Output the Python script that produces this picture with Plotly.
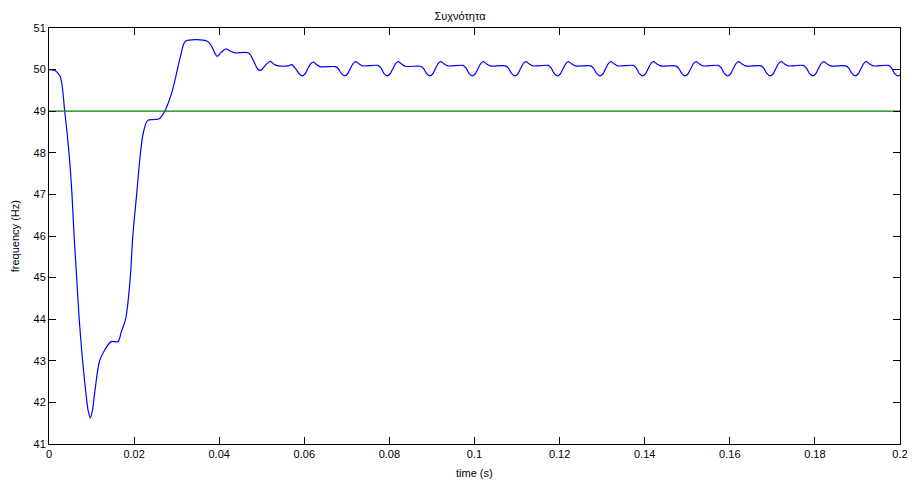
import plotly.graph_objects as go

# Frequency trace (time in s, frequency in Hz)
time_s = [
    0.0000, 0.0014, 0.0026, 0.0037, 0.0047, 0.0054, 0.0059, 0.0065, 0.0071, 0.0079,
    0.0087, 0.0092, 0.0097, 0.0102, 0.0107, 0.0119, 0.0131, 0.0146, 0.0162, 0.0170,
    0.0180, 0.0191, 0.0197, 0.0206, 0.0215, 0.0222, 0.0232, 0.0247, 0.0259, 0.0272,
    0.0288, 0.0298, 0.0310, 0.0321, 0.0372, 0.0381, 0.0395, 0.0405, 0.0416, 0.0427,
    0.0438, 0.0469, 0.0482, 0.0490, 0.0496, 0.0502, 0.0510, 0.0520, 0.0530, 0.0539,
    0.0562, 0.0570, 0.0580, 0.0588,
    0.0595, 0.0602, 0.0608, 0.0615, 0.0621, 0.0628, 0.0637, 0.0673, 0.0680, 0.0687,
    0.0695, 0.0702, 0.0708, 0.0715, 0.0721, 0.0728, 0.0737, 0.0773, 0.0780, 0.0787,
    0.0795, 0.0802, 0.0808, 0.0815, 0.0821, 0.0828, 0.0837, 0.0873, 0.0880, 0.0887,
    0.0895, 0.0902, 0.0908, 0.0915, 0.0921, 0.0928, 0.0937, 0.0973, 0.0980, 0.0987,
    0.0995, 0.1002, 0.1008, 0.1015, 0.1021, 0.1028, 0.1037, 0.1073, 0.1080, 0.1087,
    0.1095, 0.1102, 0.1108, 0.1115, 0.1121, 0.1128, 0.1137, 0.1173, 0.1180, 0.1187,
    0.1195, 0.1202, 0.1208, 0.1215, 0.1221, 0.1228, 0.1237, 0.1273, 0.1280, 0.1287,
    0.1295, 0.1302, 0.1308, 0.1315, 0.1321, 0.1328, 0.1337, 0.1373, 0.1380, 0.1387,
    0.1395, 0.1402, 0.1408, 0.1415, 0.1421, 0.1428, 0.1437, 0.1473, 0.1480, 0.1487,
    0.1495, 0.1502, 0.1508, 0.1515, 0.1521, 0.1528, 0.1537, 0.1573, 0.1580, 0.1587,
    0.1595, 0.1602, 0.1608, 0.1615, 0.1621, 0.1628, 0.1637, 0.1673, 0.1680, 0.1687,
    0.1695, 0.1702, 0.1708, 0.1715, 0.1721, 0.1728, 0.1737, 0.1773, 0.1780, 0.1787,
    0.1795, 0.1802, 0.1808, 0.1815, 0.1821, 0.1828, 0.1837, 0.1873, 0.1880, 0.1887,
    0.1895, 0.1902, 0.1908, 0.1915, 0.1921, 0.1928, 0.1937, 0.1973, 0.1980, 0.1987,
    0.1995, 0.2000,
]
freq_hz = [
    50.00, 49.98, 49.84, 49.00, 48.00, 47.00, 46.00, 45.00, 44.00, 43.00,
    42.20, 41.80, 41.63, 41.80, 42.20, 43.00, 43.26, 43.46, 43.46, 43.70,
    44.00, 45.00, 46.00, 47.00, 48.00, 48.50, 48.78, 48.80, 48.82, 49.00,
    49.43, 49.83, 50.36, 50.68, 50.68, 50.58, 50.32, 50.42, 50.50, 50.44,
    50.40, 50.40, 50.18, 50.02, 49.98, 50.02, 50.12, 50.20, 50.12, 50.09,
    50.09, 50.12, 50.02, 49.90,
    49.85, 49.90, 50.02, 50.14, 50.18, 50.13, 50.07, 50.07, 50.02, 49.91,
    49.85, 49.90, 50.02, 50.15, 50.19, 50.14, 50.09, 50.10, 50.04, 49.91,
    49.85, 49.90, 50.02, 50.15, 50.19, 50.14, 50.08, 50.08, 50.03, 49.91,
    49.85, 49.90, 50.02, 50.15, 50.19, 50.14, 50.09, 50.10, 50.04, 49.91,
    49.85, 49.90, 50.02, 50.15, 50.19, 50.14, 50.09, 50.09, 50.03, 49.91,
    49.85, 49.90, 50.02, 50.15, 50.19, 50.14, 50.09, 50.10, 50.04, 49.91,
    49.85, 49.90, 50.02, 50.15, 50.19, 50.14, 50.09, 50.09, 50.03, 49.91,
    49.85, 49.90, 50.02, 50.15, 50.19, 50.14, 50.09, 50.10, 50.04, 49.91,
    49.85, 49.90, 50.02, 50.15, 50.19, 50.14, 50.09, 50.09, 50.03, 49.91,
    49.85, 49.90, 50.02, 50.15, 50.19, 50.14, 50.09, 50.10, 50.04, 49.91,
    49.85, 49.90, 50.02, 50.15, 50.19, 50.14, 50.09, 50.09, 50.03, 49.91,
    49.85, 49.90, 50.02, 50.15, 50.19, 50.14, 50.09, 50.10, 50.04, 49.91,
    49.85, 49.90, 50.02, 50.15, 50.19, 50.14, 50.09, 50.09, 50.03, 49.91,
    49.85, 49.90, 50.02, 50.15, 50.19, 50.14, 50.09, 50.10, 50.04, 49.91,
    49.85, 49.87,
]

threshold_t = [0.0, 0.2]
threshold_f = [49.0, 49.0]

x_ticks = [0, 0.02, 0.04, 0.06, 0.08, 0.1, 0.12, 0.14, 0.16, 0.18, 0.2]
x_tick_labels = ["0", "0.02", "0.04", "0.06", "0.08", "0.1", "0.12", "0.14", "0.16", "0.18", "0.2"]
y_ticks = [41, 42, 43, 44, 45, 46, 47, 48, 49, 50, 51]

FONT = "Liberation Sans, Arial, sans-serif"

fig = go.Figure()
fig.add_trace(go.Scatter(
    x=time_s, y=freq_hz, mode="lines",
    line=dict(color="rgb(0,0,255)", width=1.2, shape="spline", smoothing=0.9),
    showlegend=False, hoverinfo="skip",
))
fig.add_trace(go.Scatter(
    x=threshold_t, y=threshold_f, mode="lines",
    line=dict(color="rgb(0,128,0)", width=1.2),
    showlegend=False, hoverinfo="skip",
))

axis_common = dict(
    showline=True, linecolor="black", linewidth=1, mirror="ticks",
    ticks="inside", ticklen=7, tickcolor="black", showgrid=False, zeroline=False,
    tickfont=dict(family=FONT, size=11, color="black"),
)
fig.update_layout(
    width=920, height=485,
    margin=dict(l=49, r=14, t=28, b=41),
    paper_bgcolor="white", plot_bgcolor="white",
    font=dict(family=FONT, size=11, color="black"),
    title=dict(text="Συχνότητα", x=0.5, xanchor="center", y=1 - 16 / 485, yanchor="middle",
               yref="container", font=dict(family=FONT, size=11, color="black")),
    xaxis=dict(range=[0, 0.2], tickvals=x_ticks, ticktext=x_tick_labels, **axis_common),
    yaxis=dict(range=[41, 51], tickvals=y_ticks, **axis_common),
    annotations=[
        dict(text="time (s)", xref="paper", yref="paper", x=0.5, y=-29 / 416,
             xanchor="center", yanchor="middle", showarrow=False,
             font=dict(family=FONT, size=11, color="black")),
        dict(text="frequency (Hz)", xref="paper", yref="paper", x=-34 / 857, y=0.5,
             xanchor="center", yanchor="middle", textangle=-90, showarrow=False,
             font=dict(family=FONT, size=11, color="black")),
    ],
)

fig.write_html(
    "out.html",
    config={"displayModeBar": False},
    post_script="document.body.style.margin='0';document.body.style.overflow='hidden';",
)
